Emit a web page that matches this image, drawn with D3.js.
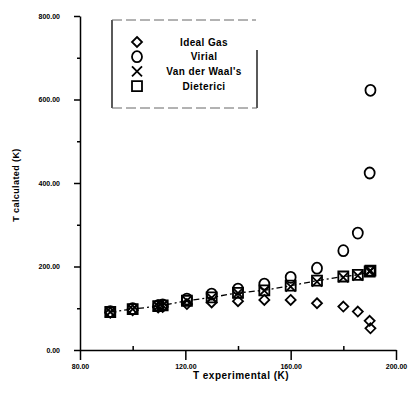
<!DOCTYPE html>
<html>
<head>
<meta charset="utf-8">
<script src="https://cdn.jsdelivr.net/npm/d3@7"></script>
<style>
  body { margin: 0; background: #fff; }
  svg { display: block; font-family: "Liberation Sans", Arial, sans-serif; }
  .axis path, .axis line { stroke: #000; stroke-width: 1.5; }
  .axis text { font-size: 7px; font-weight: bold; fill: #000; }
  .mark { fill: none; stroke: #000; stroke-width: 1.8; }
</style>
</head>
<body>
<div id="chart"></div>
<script>
// Experimental temperatures (K)
const tExp = [91.5, 100, 109.7, 111.4, 120.6, 130, 140, 150, 160, 170, 180, 185.5, 190, 190.3];

// Calculated temperatures (K) for each equation of state
const idealGas   = [89, 95, 102, 103, 110, 114, 117, 120, 120, 112, 104, 92, 70, 52];
const virial     = [92, 99, 106, 108, 122, 134, 146, 158, 174, 196, 238, 280, 424, 622];
const vanDerWaal = [91, 98, 105, 107, 118, 125, 136, 142, 152, 164, 174, 178, 188, 190];
const dieterici  = [91, 98, 105, 107, 118, 126, 137, 143, 154, 166, 176, 180, 188, 190];

const xTicks = [80, 120, 160, 200];
const xMinor = [100, 140, 180];
const yTicks = [0, 200, 400, 600, 800];
const yMinor = [100, 300, 500, 700];

const legendNames = ['Ideal Gas', 'Virial', "Van der Waal's", 'Dieterici'];

const width = 409, height = 394;

const svg = d3.select('#chart')
    .append('svg')
    .attr('width', width)
    .attr('height', height);

const x = d3.scaleLinear().domain([80, 200]).range([80, 396]);
const y = d3.scaleLinear().domain([0, 800]).range([350, 16]);

// Minor ticks
svg.append('g')
    .attr('class', 'axis')
    .attr('transform', `translate(0,${y(0)})`)
    .call(d3.axisTop(x).tickValues(xMinor).tickSize(4).tickFormat(''))
    .call(g => g.select('.domain').remove());

svg.append('g')
    .attr('class', 'axis')
    .attr('transform', `translate(${x(80)},0)`)
    .call(d3.axisLeft(y).tickValues(yMinor).tickSize(3).tickFormat(''))
    .call(g => g.select('.domain').remove());

// Major axes
svg.append('g')
    .attr('class', 'axis')
    .attr('transform', `translate(0,${y(0)})`)
    .call(d3.axisBottom(x).tickValues(xTicks).tickSize(10).tickSizeOuter(0).tickPadding(4)
        .tickFormat(d3.format('.2f')));

svg.append('g')
    .attr('class', 'axis')
    .attr('transform', `translate(${x(80)},0)`)
    .call(d3.axisLeft(y).tickValues(yTicks).tickSize(6).tickSizeOuter(0).tickPadding(14)
        .tickFormat(d3.format('.2f')));

// Axis titles
svg.append('text')
    .attr('x', 241)
    .attr('y', 379)
    .attr('text-anchor', 'middle')
    .attr('font-size', '10px')
    .attr('font-weight', 'bold')
    .attr('letter-spacing', '0.5px')
    .text('T experimental (K)');

svg.append('text')
    .attr('transform', 'rotate(-90)')
    .attr('x', -185)
    .attr('y', 19)
    .attr('text-anchor', 'middle')
    .attr('font-size', '9px')
    .attr('font-weight', 'bold')
    .attr('letter-spacing', '0.4px')
    .text('T calculated (K)');

// Marker shapes
const shapes = {
    diamond: (cx, cy) => `M${cx},${cy - 5}L${cx + 5},${cy}L${cx},${cy + 5}L${cx - 5},${cy}Z`,
    circle: (cx, cy) => `M${cx - 5},${cy}a5,5.5 0 1,0 10,0a5,5.5 0 1,0 -10,0Z`,
    cross: (cx, cy) => `M${cx - 5},${cy - 5}L${cx + 5},${cy + 5}M${cx + 5},${cy - 5}L${cx - 5},${cy + 5}`,
    square: (cx, cy) => `M${cx - 5},${cy - 5}h10v10h-10Z`
};

const series = [
    { values: idealGas, shape: 'diamond' },
    { values: virial, shape: 'circle' },
    { values: vanDerWaal, shape: 'cross' },
    { values: dieterici, shape: 'square' }
];

// Dashed line through the Dieterici points
const line = d3.line()
    .x((d, i) => x(tExp[i]))
    .y(d => y(d));

svg.append('path')
    .datum(dieterici)
    .attr('fill', 'none')
    .attr('stroke', '#000')
    .attr('stroke-width', 1.3)
    .attr('stroke-dasharray', '6,3,2,3')
    .attr('d', line);

series.forEach(s => {
    svg.append('g')
        .selectAll('path')
        .data(s.values)
        .join('path')
        .attr('class', 'mark')
        .attr('d', (d, i) => shapes[s.shape](x(tExp[i]), y(d)));
});

// Legend
const legend = svg.append('g');

legend.append('path')
    .attr('d', 'M112,20V108')
    .attr('stroke', '#000')
    .attr('stroke-width', 1.3)
    .attr('fill', 'none');
legend.append('path')
    .attr('d', 'M257,50V108')
    .attr('stroke', '#000')
    .attr('stroke-width', 1.3)
    .attr('fill', 'none');
legend.append('path')
    .attr('d', 'M112,20H256M112,108H257')
    .attr('stroke', '#666')
    .attr('stroke-width', 1)
    .attr('stroke-dasharray', '10,4')
    .attr('fill', 'none');

const legendShapes = ['diamond', 'circle', 'cross', 'square'];

legendNames.forEach((name, i) => {
    const cy = 42 + i * 14.7;
    legend.append('path')
        .attr('class', 'mark')
        .attr('d', shapes[legendShapes[i]](137, cy));
    legend.append('text')
        .attr('x', 204)
        .attr('y', cy + 3.5)
        .attr('text-anchor', 'middle')
        .attr('font-size', '10px')
        .attr('font-weight', 'bold')
        .attr('letter-spacing', '0.4px')
        .text(name);
});
</script>
</body>
</html>
